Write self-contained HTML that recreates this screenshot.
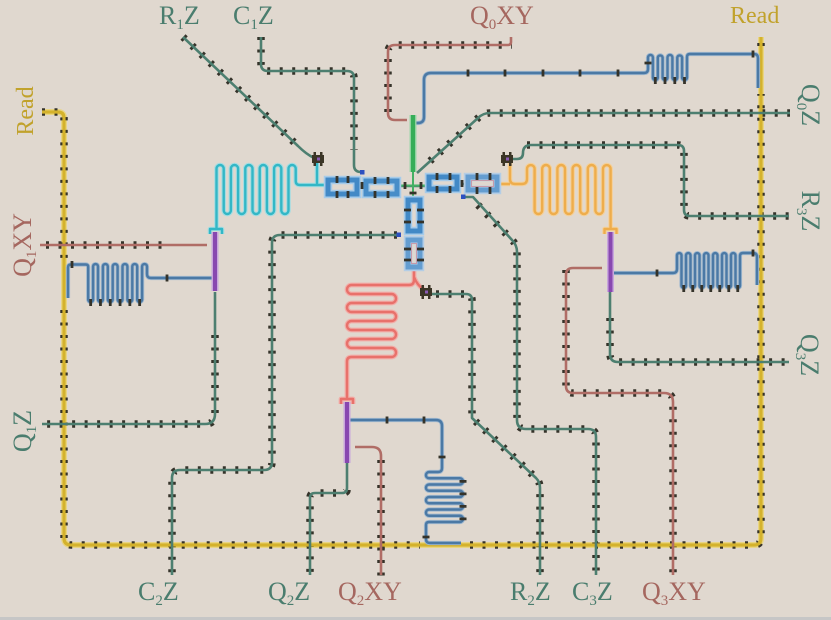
<!DOCTYPE html>
<html><head><meta charset="utf-8"><style>
html,body{margin:0;padding:0;background:#e0d8cf;}
svg{display:block;}
.br{fill:none;stroke:#35332a;stroke-width:7.5;stroke-dasharray:3 9.5;}
.tk{fill:none;stroke:#35332a;stroke-width:2.8;}
.t{fill:none;stroke:#4d7f70;stroke-width:2.6;stroke-linejoin:round;}
.r{fill:none;stroke:#b06d66;stroke-width:2.6;stroke-linejoin:round;}
.b{fill:none;stroke:#4b79a5;stroke-width:2.4;stroke-linejoin:round;}
.bh{fill:none;stroke:#9fb8cf;stroke-width:4.2;stroke-linejoin:round;}
</style></head><body>
<svg width="831" height="620" viewBox="0 0 831 620" xmlns="http://www.w3.org/2000/svg">
<rect x="0" y="0" width="831" height="620" fill="#e0d8cf"/>
<rect x="0" y="617" width="831" height="3" fill="#c6c6c6"/>

<path d="M42,112 H58 Q64,112 64,118 V538 Q64,545 71,545 H754 Q761,545 761,538 V37" fill="none" stroke="#e9d583" stroke-width="6"/>

<path class="br" d="M42,112 H58 Q64,112 64,118 V258"/>
<path class="br" d="M64,310 V538 Q64,545 71,545 H420"/>
<path class="br" d="M470,545 H754 Q761,545 761,538 V94"/>
<path class="br" d="M761,43 V46"/>
<path class="br" d="M183,37 L298,146"/>
<path class="br" d="M261,37 V64 Q261,71 268,71 H347 Q354,71 354,78 V150"/>
<path class="br" d="M388,112 V52 Q388,45 395,45 H512"/>
<path class="br" d="M430,161 L478,118 Q483,113 490,113 H790"/>
<path class="br" d="M527,145 H678 Q684,145 684,151 V210 Q684,216 690,216 H790"/>
<path class="br" d="M610,318 V354 Q610,362 618,362 H790"/>
<path class="br" d="M566,270 V386 Q566,393 573,393 H664 Q673,393 673,402 V576"/>
<path class="br" d="M478,205 L512,240 Q517,245 517,252 V420 Q517,429 526,429 H588 Q596,429 596,437 V576"/>
<path class="br" d="M436,294 H466 Q472,294 472,300 V418 L536,478 Q540,482 540,488 V576"/>
<path class="br" d="M381,460 V576"/>
<path class="br" d="M347,490 Q347,493 342,493 H315 Q310,493 310,498 V576"/>
<path class="br" d="M397,235 H280 Q272,235 272,243 V462 Q272,470 264,470 H180 Q172,470 172,478 V576"/>
<path class="br" d="M215,335 V414 Q215,424 205,424 H42"/>
<path class="br" d="M46,245 H170"/>

<path d="M42,112 H58 Q64,112 64,118 V538 Q64,545 71,545 H754 Q761,545 761,538 V37" fill="none" stroke="#d4b22c" stroke-width="3.2"/>

<path class="t" d="M183,37 L298,146 Q306,154 314,158"/>
<path class="t" d="M261,37 V64 Q261,71 268,71 H347 Q354,71 354,78 V165 Q354,172 361,172"/>
<path class="t" d="M417,173 L478,118 Q483,113 490,113 H790"/>
<path class="t" d="M511,159 H517 Q523,159 523,153 Q523,145 531,145 H678 Q684,145 684,151 V210 Q684,216 690,216 H789"/>
<path class="t" d="M610,292 V354 Q610,362 618,362 H789"/>
<path class="t" d="M463,197 H473 L512,240 Q517,245 517,252 V420 Q517,429 526,429 H588 Q596,429 596,437 V575"/>
<path class="t" d="M432,294 H466 Q472,294 472,300 V418 L536,478 Q540,482 540,488 V575"/>
<path class="t" d="M347,463 V488 Q347,493 342,493 H315 Q310,493 310,498 V575"/>
<path class="t" d="M399,235 H280 Q272,235 272,243 V462 Q272,470 264,470 H180 Q172,470 172,478 V575"/>
<path class="t" d="M215,292 V414 Q215,424 205,424 H42"/>
<path class="t" d="M398,186 H428 M358,187 H367 M458,184 H469" stroke-width="2"/>

<path class="r" d="M407,120 H395 Q388,120 388,113 V52 Q388,45 395,45 H508 Q511,45 511,42 V37"/>
<path class="r" d="M40,245 H207"/>
<path class="r" d="M355,447 H372 Q381,447 381,456 V575"/>
<path class="r" d="M602,268 H573 Q566,268 566,275 V386 Q566,393 573,393 H664 Q673,393 673,402 V575"/>

<g>
<path class="bh" d="M414,123 H418 Q424,123 424,117 V80 Q424,73 431,73 H644 Q648,73 648,69 V57.4 A2.44,2.44 0 0 1 652.9,57.4 V77.6 A2.44,2.44 0 0 0 657.8,77.6 V57.4 A2.44,2.44 0 0 1 662.6,57.4 V77.6 A2.44,2.44 0 0 0 667.5,77.6 V57.4 A2.44,2.44 0 0 1 672.4,57.4 V77.6 A2.44,2.44 0 0 0 677.3,77.6 V57.4 A2.44,2.44 0 0 1 682.1,57.4 V77.6 A2.44,2.44 0 0 0 687,77.6 V57 Q687,54 690,54 H754 Q758,54 758,58 V88"/>
<path class="b" d="M414,123 H418 Q424,123 424,117 V80 Q424,73 431,73 H644 Q648,73 648,69 V57.4 A2.44,2.44 0 0 1 652.9,57.4 V77.6 A2.44,2.44 0 0 0 657.8,77.6 V57.4 A2.44,2.44 0 0 1 662.6,57.4 V77.6 A2.44,2.44 0 0 0 667.5,77.6 V57.4 A2.44,2.44 0 0 1 672.4,57.4 V77.6 A2.44,2.44 0 0 0 677.3,77.6 V57.4 A2.44,2.44 0 0 1 682.1,57.4 V77.6 A2.44,2.44 0 0 0 687,77.6 V57 Q687,54 690,54 H754 Q758,54 758,58 V88"/>

<path class="bh" d="M612,273 H673 Q677,273 677,269 V255.3 A2.25,2.25 0 0 1 681.5,255.3 V285.7 A2.25,2.25 0 0 0 686,285.7 V255.3 A2.25,2.25 0 0 1 690.5,255.3 V285.7 A2.25,2.25 0 0 0 695,285.7 V255.3 A2.25,2.25 0 0 1 699.5,255.3 V285.7 A2.25,2.25 0 0 0 704,285.7 V255.3 A2.25,2.25 0 0 1 708.5,255.3 V285.7 A2.25,2.25 0 0 0 713,285.7 V255.3 A2.25,2.25 0 0 1 717.5,255.3 V285.7 A2.25,2.25 0 0 0 722,285.7 V255.3 A2.25,2.25 0 0 1 726.5,255.3 V285.7 A2.25,2.25 0 0 0 731,285.7 V255.3 A2.25,2.25 0 0 1 735.5,255.3 V285.7 A2.25,2.25 0 0 0 740,285.7 V256 Q740,253 743,253 H753 Q757,253 757,257 V285"/>
<path class="b" d="M612,273 H673 Q677,273 677,269 V255.3 A2.25,2.25 0 0 1 681.5,255.3 V285.7 A2.25,2.25 0 0 0 686,285.7 V255.3 A2.25,2.25 0 0 1 690.5,255.3 V285.7 A2.25,2.25 0 0 0 695,285.7 V255.3 A2.25,2.25 0 0 1 699.5,255.3 V285.7 A2.25,2.25 0 0 0 704,285.7 V255.3 A2.25,2.25 0 0 1 708.5,255.3 V285.7 A2.25,2.25 0 0 0 713,285.7 V255.3 A2.25,2.25 0 0 1 717.5,255.3 V285.7 A2.25,2.25 0 0 0 722,285.7 V255.3 A2.25,2.25 0 0 1 726.5,255.3 V285.7 A2.25,2.25 0 0 0 731,285.7 V255.3 A2.25,2.25 0 0 1 735.5,255.3 V285.7 A2.25,2.25 0 0 0 740,285.7 V256 Q740,253 743,253 H753 Q757,253 757,257 V285"/>

<path class="bh" d="M213,278 H151 Q147,278 147,274 V266.5 A2.45,2.45 0 0 0 142.1,266.5 V299.5 A2.45,2.45 0 0 1 137.2,299.5 V266.5 A2.45,2.45 0 0 0 132.3,266.5 V299.5 A2.45,2.45 0 0 1 127.4,299.5 V266.5 A2.45,2.45 0 0 0 122.5,266.5 V299.5 A2.45,2.45 0 0 1 117.6,299.5 V266.5 A2.45,2.45 0 0 0 112.7,266.5 V299.5 A2.45,2.45 0 0 1 107.8,299.5 V266.5 A2.45,2.45 0 0 0 102.9,266.5 V299.5 A2.45,2.45 0 0 1 98,299.5 V266.5 A2.45,2.45 0 0 0 93.1,266.5 V299.5 A2.45,2.45 0 0 1 88.2,299.5 V267 Q88.2,264.5 85.7,264.5 H71 Q68,264.5 68,267.5 V298"/>
<path class="b" d="M213,278 H151 Q147,278 147,274 V266.5 A2.45,2.45 0 0 0 142.1,266.5 V299.5 A2.45,2.45 0 0 1 137.2,299.5 V266.5 A2.45,2.45 0 0 0 132.3,266.5 V299.5 A2.45,2.45 0 0 1 127.4,299.5 V266.5 A2.45,2.45 0 0 0 122.5,266.5 V299.5 A2.45,2.45 0 0 1 117.6,299.5 V266.5 A2.45,2.45 0 0 0 112.7,266.5 V299.5 A2.45,2.45 0 0 1 107.8,299.5 V266.5 A2.45,2.45 0 0 0 102.9,266.5 V299.5 A2.45,2.45 0 0 1 98,299.5 V266.5 A2.45,2.45 0 0 0 93.1,266.5 V299.5 A2.45,2.45 0 0 1 88.2,299.5 V267 Q88.2,264.5 85.7,264.5 H71 Q68,264.5 68,267.5 V298"/>

<path class="bh" d="M349,420 H436 Q442,420 442,426 V468 Q442,472 438,472 H429.1 A3.125,3.125 0 0 0 429.1,478.25 H459.9 A3.125,3.125 0 0 1 459.9,484.5 H429.1 A3.125,3.125 0 0 0 429.1,490.75 H459.9 A3.125,3.125 0 0 1 459.9,497 H429.1 A3.125,3.125 0 0 0 429.1,503.25 H459.9 A3.125,3.125 0 0 1 459.9,509.5 H429.1 A3.125,3.125 0 0 0 429.1,515.75 H459.9 A3.125,3.125 0 0 1 459.9,522 H429.1 Q426,522 426,525 V539 Q426,543 430,543 H461"/>
<path class="b" d="M349,420 H436 Q442,420 442,426 V468 Q442,472 438,472 H429.1 A3.125,3.125 0 0 0 429.1,478.25 H459.9 A3.125,3.125 0 0 1 459.9,484.5 H429.1 A3.125,3.125 0 0 0 429.1,490.75 H459.9 A3.125,3.125 0 0 1 459.9,497 H429.1 A3.125,3.125 0 0 0 429.1,503.25 H459.9 A3.125,3.125 0 0 1 459.9,509.5 H429.1 A3.125,3.125 0 0 0 429.1,515.75 H459.9 A3.125,3.125 0 0 1 459.9,522 H429.1 Q426,522 426,525 V539 Q426,543 430,543 H461"/>
</g>

<path class="tk" d="M468,69.5 v7 M505,69.5 v7 M543,69.5 v7 M580,69.5 v7 M618,69.5 v7 M753,50.5 v7 M644.5,63 h7 M655.3,77 v7 M665,77 v7 M674.8,77 v7 M684.5,77 v7"/>
<path class="tk" d="M657,269.5 v7 M753,249.5 v7 M683.75,285 v7 M692.75,285 v7 M701.75,285 v7 M710.75,285 v7 M719.75,285 v7 M728.75,285 v7 M737.75,285 v7"/>
<path class="tk" d="M167,274.5 v7 M72,261 v7 M139.65,299 v7 M129.85,299 v7 M120.05,299 v7 M110.25,299 v7 M100.45,299 v7 M90.65,299 v7"/>
<path class="tk" d="M387,416.5 v7 M424,416.5 v7 M438.5,457 h7 M459.5,481.4 h7 M459.5,493.9 h7 M459.5,506.4 h7 M459.5,518.9 h7 M422.5,537 h7"/>

<g fill="none" stroke-linejoin="round">
<path d="M216.5,229 V168.6 A3.6,3.6 0 0 1 223.7,168.6 V210.4 A3.6,3.6 0 0 0 230.9,210.4 V168.6 A3.6,3.6 0 0 1 238.1,168.6 V210.4 A3.6,3.6 0 0 0 245.3,210.4 V168.6 A3.6,3.6 0 0 1 252.5,168.6 V210.4 A3.6,3.6 0 0 0 259.7,210.4 V168.6 A3.6,3.6 0 0 1 266.9,168.6 V210.4 A3.6,3.6 0 0 0 274.1,210.4 V168.6 A3.6,3.6 0 0 1 281.3,168.6 V210.4 A3.6,3.6 0 0 0 288.5,210.4 V168.6 A3.6,3.6 0 0 1 295.7,168.6 V181 Q295.7,185 300,185 H326 M317,163 V185 M210,234 V229 H222 V234" stroke="#a5dde2" stroke-width="4.6"/>
<path d="M216.5,229 V168.6 A3.6,3.6 0 0 1 223.7,168.6 V210.4 A3.6,3.6 0 0 0 230.9,210.4 V168.6 A3.6,3.6 0 0 1 238.1,168.6 V210.4 A3.6,3.6 0 0 0 245.3,210.4 V168.6 A3.6,3.6 0 0 1 252.5,168.6 V210.4 A3.6,3.6 0 0 0 259.7,210.4 V168.6 A3.6,3.6 0 0 1 266.9,168.6 V210.4 A3.6,3.6 0 0 0 274.1,210.4 V168.6 A3.6,3.6 0 0 1 281.3,168.6 V210.4 A3.6,3.6 0 0 0 288.5,210.4 V168.6 A3.6,3.6 0 0 1 295.7,168.6 V181 Q295.7,185 300,185 H326 M317,163 V185 M210,234 V229 H222 V234" stroke="#33b7c6" stroke-width="2.4"/>
</g>

<g fill="none" stroke-linejoin="round">
<path d="M500,184 H510 M510,161 V179 Q510,184 515,184 H522 Q527,184 527,179 V168.8 A3.8,3.8 0 0 1 534.6,168.8 V210.2 A3.8,3.8 0 0 0 542.2,210.2 V168.8 A3.8,3.8 0 0 1 549.8,168.8 V210.2 A3.8,3.8 0 0 0 557.4,210.2 V168.8 A3.8,3.8 0 0 1 565,168.8 V210.2 A3.8,3.8 0 0 0 572.6,210.2 V168.8 A3.8,3.8 0 0 1 580.2,168.8 V210.2 A3.8,3.8 0 0 0 587.8,210.2 V168.8 A3.8,3.8 0 0 1 595.4,168.8 V210.2 A3.8,3.8 0 0 0 603,210.2 V168.8 A3.8,3.8 0 0 1 610.6,168.8 V229 M604.5,234 V229 H616.5 V234" stroke="#f4d09a" stroke-width="4.6"/>
<path d="M500,184 H510 M510,161 V179 Q510,184 515,184 H522 Q527,184 527,179 V168.8 A3.8,3.8 0 0 1 534.6,168.8 V210.2 A3.8,3.8 0 0 0 542.2,210.2 V168.8 A3.8,3.8 0 0 1 549.8,168.8 V210.2 A3.8,3.8 0 0 0 557.4,210.2 V168.8 A3.8,3.8 0 0 1 565,168.8 V210.2 A3.8,3.8 0 0 0 572.6,210.2 V168.8 A3.8,3.8 0 0 1 580.2,168.8 V210.2 A3.8,3.8 0 0 0 587.8,210.2 V168.8 A3.8,3.8 0 0 1 595.4,168.8 V210.2 A3.8,3.8 0 0 0 603,210.2 V168.8 A3.8,3.8 0 0 1 610.6,168.8 V229 M604.5,234 V229 H616.5 V234" stroke="#eead4c" stroke-width="2.4"/>
</g>

<g fill="none" stroke-linejoin="round">
<path d="M414,270 V280 Q414,285 409,285 H351.5 A4.5,4.5 0 0 0 351.5,294 H391.5 A4.5,4.5 0 0 1 391.5,303 H351.5 A4.5,4.5 0 0 0 351.5,312 H391.5 A4.5,4.5 0 0 1 391.5,321 H351.5 A4.5,4.5 0 0 0 351.5,330 H391.5 A4.5,4.5 0 0 1 391.5,339 H351.5 A4.5,4.5 0 0 0 351.5,348 H391.5 A4.5,4.5 0 0 1 391.5,357 H351.5 Q347,357 347,361.5 V399 M414,277 Q417,285 424,290 M341,404 V399 H353 V404" stroke="#f2aea9" stroke-width="4.8"/>
<path d="M414,270 V280 Q414,285 409,285 H351.5 A4.5,4.5 0 0 0 351.5,294 H391.5 A4.5,4.5 0 0 1 391.5,303 H351.5 A4.5,4.5 0 0 0 351.5,312 H391.5 A4.5,4.5 0 0 1 391.5,321 H351.5 A4.5,4.5 0 0 0 351.5,330 H391.5 A4.5,4.5 0 0 1 391.5,339 H351.5 A4.5,4.5 0 0 0 351.5,348 H391.5 A4.5,4.5 0 0 1 391.5,357 H351.5 Q347,357 347,361.5 V399 M414,277 Q417,285 424,290 M341,404 V399 H353 V404" stroke="#e8716b" stroke-width="2.4"/>
</g>

<g stroke-linecap="butt">
<path d="M215,232 V291 M610.5,232 V292 M347,402 V463" stroke="#c8a6dc" stroke-width="7"/>
<path d="M215,232 V291 M610.5,232 V292 M347,402 V463" stroke="#8848b0" stroke-width="4"/>
</g>

<path d="M413,115 V172" stroke="#9bd6a8" stroke-width="7"/>
<path d="M413,115 V172" stroke="#36ad58" stroke-width="4.2"/>
<path d="M413,172 V197 M401,185.5 H425" stroke="#44b064" stroke-width="2"/>

<g fill="none">
<rect x="328" y="180" width="29" height="14" stroke="#a6cbe9" stroke-width="8.5"/>
<rect x="366" y="181" width="31" height="13" stroke="#a6cbe9" stroke-width="8.5"/>
<rect x="429" y="177" width="28" height="12" stroke="#a6cbe9" stroke-width="8.5"/>
<rect x="468" y="177" width="29" height="13" stroke="#b3cde6" stroke-width="8.5"/>
<rect x="408" y="200" width="12" height="31" stroke="#a6cbe9" stroke-width="8.5"/>
<rect x="408" y="240" width="12" height="27" stroke="#b3cde6" stroke-width="8.5"/>

<rect x="328" y="180" width="29" height="14" stroke="#4289c6" stroke-width="5"/>
<rect x="366" y="181" width="31" height="13" stroke="#488dc8" stroke-width="5"/>
<rect x="429" y="177" width="28" height="12" stroke="#4289c6" stroke-width="5"/>
<rect x="468" y="177" width="29" height="13" stroke="#649dd0" stroke-width="5"/>
<rect x="408" y="200" width="12" height="31" stroke="#4289c6" stroke-width="5"/>
<rect x="408" y="240" width="12" height="27" stroke="#649dd0" stroke-width="5"/>
<rect x="471.5" y="180.5" width="22" height="6" stroke="#c79aaa" stroke-width="1"/>
<rect x="411.5" y="243.5" width="5" height="20" stroke="#c79aaa" stroke-width="1"/>
</g>
<path class="tk" d="M337,176 v7 M348,176 v7 M337,191 v7 M348,191 v7 M375,177 v7 M388,177 v7 M375,191 v7 M388,191 v7 M437,173 v7 M450,173 v7 M437,186 v7 M450,186 v7 M477,173 v7 M490,173 v7 M477,187 v7 M490,187 v7 M404,210 h7 M404,222 h7 M417,210 h7 M417,222 h7 M404,249 h7 M404,260 h7 M417,249 h7 M417,260 h7 M405,182 v7 M421,182 v7 M409.5,193 h7 M362,182 v7 M462,180 v7"/>

<rect x="360" y="170" width="4.5" height="4.5" fill="#2d50c0"/>
<rect x="461" y="194.5" width="4.5" height="4.5" fill="#2d50c0"/>
<rect x="396.5" y="232.5" width="4.5" height="4.5" fill="#2d50c0"/>

<g fill="#3b3526">
<rect x="312" y="155" width="12" height="8"/><rect x="313.5" y="152" width="2.5" height="14"/><rect x="320" y="152" width="2.5" height="14"/>
<rect x="501" y="155" width="12" height="8"/><rect x="502.5" y="152" width="2.5" height="14"/><rect x="509" y="152" width="2.5" height="14"/>
<rect x="420" y="288" width="12" height="8"/><rect x="421.5" y="285" width="2.5" height="14"/><rect x="428" y="285" width="2.5" height="14"/>
</g>
<g fill="#8a5ab4">
<rect x="317" y="157.5" width="3" height="3"/><rect x="506" y="157.5" width="3" height="3"/><rect x="425" y="290.5" width="3" height="3"/>
</g>

<g font-family="'Liberation Serif', serif" font-size="26">
<text x="159" y="24" fill="#4a7d6e">R<tspan font-size="15" dy="5">1</tspan><tspan dy="-5">Z</tspan></text>
<text x="233" y="24" fill="#4a7d6e">C<tspan font-size="15" dy="5">1</tspan><tspan dy="-5">Z</tspan></text>
<text x="470" y="24" fill="#a5675f">Q<tspan font-size="15" dy="5">0</tspan><tspan dy="-5">XY</tspan></text>
<text x="730" y="23" fill="#c1a22c" font-size="24">Read</text>

<text transform="translate(33,111) rotate(-90)" text-anchor="middle" fill="#c1a22c" font-size="24">Read</text>
<text transform="translate(31,245) rotate(-90)" text-anchor="middle" fill="#a5675f">Q<tspan font-size="15" dy="5">1</tspan><tspan dy="-5">XY</tspan></text>
<text transform="translate(31,431) rotate(-90)" text-anchor="middle" fill="#4a7d6e">Q<tspan font-size="15" dy="5">1</tspan><tspan dy="-5">Z</tspan></text>

<text transform="translate(802,105) rotate(90)" text-anchor="middle" fill="#4a7d6e">Q<tspan font-size="15" dy="5">0</tspan><tspan dy="-5">Z</tspan></text>
<text transform="translate(802,211) rotate(90)" text-anchor="middle" fill="#4a7d6e">R<tspan font-size="15" dy="5">3</tspan><tspan dy="-5">Z</tspan></text>
<text transform="translate(801,355) rotate(90)" text-anchor="middle" fill="#4a7d6e">Q<tspan font-size="15" dy="5">3</tspan><tspan dy="-5">Z</tspan></text>

<text x="138" y="600" fill="#4a7d6e">C<tspan font-size="15" dy="5">2</tspan><tspan dy="-5">Z</tspan></text>
<text x="268" y="600" fill="#4a7d6e">Q<tspan font-size="15" dy="5">2</tspan><tspan dy="-5">Z</tspan></text>
<text x="338" y="600" fill="#a5675f">Q<tspan font-size="15" dy="5">2</tspan><tspan dy="-5">XY</tspan></text>
<text x="510" y="600" fill="#4a7d6e">R<tspan font-size="15" dy="5">2</tspan><tspan dy="-5">Z</tspan></text>
<text x="572" y="600" fill="#4a7d6e">C<tspan font-size="15" dy="5">3</tspan><tspan dy="-5">Z</tspan></text>
<text x="642" y="600" fill="#a5675f">Q<tspan font-size="15" dy="5">3</tspan><tspan dy="-5">XY</tspan></text>
</g>
</svg>
</body></html>
